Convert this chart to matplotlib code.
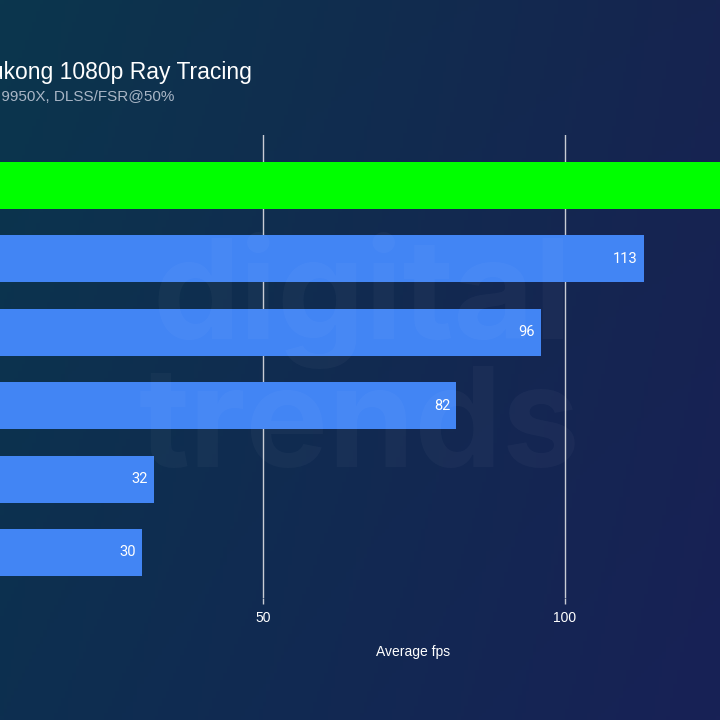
import numpy as np
import matplotlib
matplotlib.use("Agg")
import matplotlib.pyplot as plt

categories = ["RTX 5090", "RTX 4090", "RTX 5080", "RTX 4080 Super", "RX 9070 XT", "RX 7900 XTX"]
values = [140, 113, 96, 82, 32, 30]
colors = ["#00ff00", "#4285f4", "#4285f4", "#4285f4", "#4285f4", "#4285f4"]
xticks = [50, 100]
title = "Black Myth: Wukong 1080p Ray Tracing"
subtitle = "AMD Ryzen 9 9950X, DLSS/FSR@50%"
xlabel = "Average fps"

W = H = 720
fig = plt.figure(figsize=(7.2, 7.2), dpi=100)

# background gradient
bg = fig.add_axes([0, 0, 1, 1], zorder=-10)
tl = np.array([0x0b, 0x36, 0x4d]) / 255
tr = np.array([0x16, 0x24, 0x50]) / 255
bl = np.array([0x0d, 0x2f, 0x50]) / 255
br = np.array([0x18, 0x21, 0x56]) / 255
u = np.linspace(0, 1, 200)[None, :, None]
v = np.linspace(0, 1, 200)[:, None, None]
img = (1 - v) * ((1 - u) * tl + u * tr) + v * ((1 - u) * bl + u * br)
bg.imshow(img, extent=[0, 1, 0, 1], aspect="auto", origin="upper")
bg.set_axis_off()

# watermark
fig.text(362 / W, 1 - 300 / H, "digital", fontsize=100, fontweight="bold", color="white",
         alpha=0.03, ha="center", va="center", family="Inter")
fig.text(360 / W, 1 - 430 / H, "trends", fontsize=100, fontweight="bold", color="white",
         alpha=0.03, ha="center", va="center", family="Inter")

px_per_unit = 302 / 50
x0 = -39
top, bottom = 135, 598
left = x0 / W
width = (W - x0) / W
ax = fig.add_axes([left, 1 - bottom / H, width, (bottom - top) / H])
ax.patch.set_alpha(0)
xmax = (W - x0) / px_per_unit
ax.set_xlim(0, xmax)
step = 73.4
ax.set_ylim(5 + (bottom - 552.5) / step, -(185.5 - top) / step)

y = np.arange(len(categories))
ax.barh(y, values, height=47 / step, color=colors, zorder=3)
for yi, val in zip(y, values):
    if val < xmax - 5:
        ax.text(val - 1.0, yi, str(val), color="white", fontsize=10.5, ha="right", va="center",
                family="Roboto", zorder=4)

ax.set_xticks(xticks)
ax.set_xticklabels([str(t) for t in xticks], color="white", fontsize=10, family="Liberation Sans")
ax.set_yticks(y)
ax.set_yticklabels([])
ax.tick_params(axis="x", length=4, color="#c8ccd4", width=1, pad=5)
ax.tick_params(axis="y", length=0)
ax.grid(axis="x", color="#c8ccd4", linewidth=1, zorder=1)
for s in ax.spines.values():
    s.set_visible(False)

fig.text(413 / W, 1 - 652 / H, xlabel, color="white", fontsize=10, ha="center", va="center",
         family="Liberation Sans")
fig.text(252 / W, 1 - 73 / H, title, color="white", fontsize=16.5, ha="right", va="center",
         family="Liberation Sans")
fig.text(174 / W, 1 - 97 / H, subtitle, color="#a9b6c6", fontsize=11, ha="right", va="center",
         family="Liberation Sans")

fig.savefig("out.png", dpi=100)
